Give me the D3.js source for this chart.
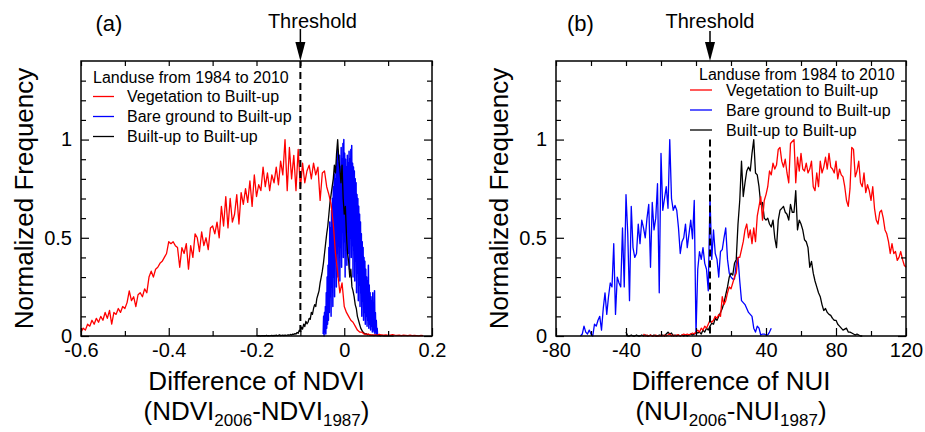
<!DOCTYPE html>
<html><head><meta charset="utf-8">
<script src="https://cdn.jsdelivr.net/npm/d3@7"></script>
<style>
body{margin:0;background:#fff}
svg text{font-family:"Liberation Sans",Arial,Helvetica,sans-serif;fill:#000}
</style></head>
<body><svg id="c" width="925" height="432"></svg>
<script>
// ---------- DATA ----------
// Panel (a): difference of NDVI
const ndviDomain = [-0.6, 0.2];
const ndviMajorTicks = [-0.6, -0.4, -0.2, 0, 0.2];
const ndviMinorTicks = [-0.5, -0.3, -0.1, 0.1];
const ndviThreshold = -0.1;

const vegNdviStart = -0.6, vegNdviStep = 0.005;
const vegNdvi = [
0.02,0.04,0.03,0.06,0.05,0.08,0.06,0.09,0.07,0.10,
0.08,0.12,0.09,0.13,0.06,0.12,0.11,0.14,0.12,0.15,
0.14,0.17,0.23,0.18,0.20,0.15,0.21,0.22,0.20,0.24,
0.22,0.30,0.33,0.30,0.34,0.35,0.37,0.38,0.40,0.42,
0.48,0.47,0.48,0.46,0.45,0.35,0.45,0.42,0.47,0.34,
0.46,0.40,0.52,0.50,0.43,0.53,0.46,0.50,0.44,0.55,
0.56,0.52,0.58,0.50,0.66,0.56,0.71,0.55,0.70,0.58,
0.62,0.72,0.57,0.73,0.67,0.75,0.68,0.79,0.66,0.82,
0.71,0.77,0.74,0.86,0.76,0.83,0.74,0.82,0.78,0.86,
0.77,0.89,0.82,1.00,0.74,0.96,0.80,0.92,0.74,0.95,
0.75,0.88,0.78,0.84,0.87,0.80,0.88,0.82,0.86,0.69,
0.83,0.84,0.76,0.72,0.67,0.57,0.42,0.32,0.22,0.27,
0.15,0.12,0.10,0.08,0.07,0.05,0.03,0.02,0.02,0.01,
0.01,0.01,0.005,0.004,0.006,0.003,0.008,0.005,0.004,0.006,
0.003,0.005,0.007,0.004,0.003,0.005,0.002,0.004,0.003,0.002,
0.004,0.002,0.003,0.002,0.001,0.003,0.002];

const bareNdviStart = -0.048, bareNdviStep = 0.001;
const bareNdvi = [
0.01,0.10,0.00,0.12,0.02,0.15,0.01,0.22,0.04,0.30,
0.06,0.36,0.08,0.45,0.12,0.58,0.20,0.55,0.10,0.64,
0.25,0.70,0.15,0.76,0.30,0.82,0.20,0.85,0.38,0.80,
0.25,0.90,0.42,0.95,0.30,0.88,0.50,0.92,0.28,0.86,
0.45,0.96,0.35,0.90,0.55,0.98,0.40,1.00,0.48,0.93,
0.30,0.90,0.52,0.86,0.36,0.92,0.58,0.88,0.42,0.94,
0.34,0.90,0.50,0.95,0.40,0.97,0.46,0.88,0.30,0.86,
0.44,0.84,0.28,0.80,0.38,0.78,0.22,0.72,0.32,0.70,
0.18,0.66,0.26,0.62,0.15,0.58,0.22,0.52,0.10,0.48,
0.18,0.45,0.08,0.40,0.12,0.38,0.06,0.34,0.10,0.30,
0.05,0.28,0.08,0.36,0.04,0.26,0.06,0.22,0.03,0.20,
0.05,0.18,0.02,0.22,0.03,0.16,0.02,0.23,0.01,0.12,
0.02,0.08,0.01,0.04,0.00];

const builtNdviStart = -0.2, builtNdviStep = 0.0025;
const builtNdvi = [
0.004,0.001,0.002,0.001,0.000,0.002,0.001,0.002,0.001,0.003,0.001,0.002,0.001,0.002,0.003,0.001,
0.003,0.002,0.004,0.002,0.003,0.006,0.002,0.003,0.004,0.002,
0.005,0.003,0.004,0.006,0.004,0.008,0.005,0.010,0.008,0.012,
0.010,0.018,0.014,0.030,0.022,0.045,0.035,0.060,0.048,0.075,
0.062,0.070,0.090,0.085,0.120,0.110,0.140,0.160,0.150,0.190,
0.210,0.230,0.270,0.300,0.330,0.370,0.420,0.470,0.520,0.560,
0.620,0.680,0.720,0.760,0.800,0.870,0.830,0.930,1.000,0.900,
0.850,0.780,0.870,0.700,0.620,0.660,0.520,0.420,0.380,0.300,
0.340,0.250,0.230,0.200,0.160,0.140,0.100,0.080,0.060,0.040,
0.030,0.020,0.015,0.010,0.012,0.006,0.008,0.005,0.004,0.003,
0.004,0.002,0.003,0.005,0.002,0.003,0.002,0.001,0.003,0.002,
0.001,0.002,0.001,0.002,0.001,0.001,0.002,0.001,0.001,0.000];

// Panel (b): difference of NUI
const nuiDomain = [-80, 120];
const nuiMajorTicks = [-80, -40, 0, 40, 80, 120];
const nuiMinorTicks = [-60, -20, 20, 60, 100];
const nuiThreshold = 8;

const vegNuiStart = -30, vegNuiStep = 1;
const vegNui = [
0.01,0.00,0.005,0.00,0.005,0.00,0.00,0.005,0.00,0.00,
0.005,0.00,0.005,0.00,0.005,0.01,0.00,0.005,0.00,0.005,
0.005,0.00,0.005,0.01,0.005,0.01,0.005,0.01,0.015,0.01,
0.02,0.03,0.02,0.04,0.03,0.05,0.04,0.06,0.08,0.07,
0.08,0.10,0.09,0.11,0.10,0.20,0.16,0.18,0.22,0.25,
0.24,0.27,0.30,0.32,0.40,0.40,0.44,0.48,0.54,0.57,
0.50,0.54,0.47,0.55,0.48,0.61,0.66,0.71,0.59,0.69,
0.72,0.76,0.84,0.82,0.88,0.85,0.87,0.95,0.96,0.89,
0.86,0.90,0.83,0.78,0.98,0.99,1.00,0.78,0.91,0.84,
0.93,0.85,0.84,0.88,0.83,0.85,0.89,0.76,0.74,0.83,
0.76,0.89,0.83,0.86,0.91,0.85,0.93,0.86,0.85,0.83,
0.89,0.80,0.85,0.82,0.81,0.76,0.69,0.66,0.75,0.96,
0.95,0.81,0.84,0.89,0.78,0.76,0.83,0.73,0.77,0.74,
0.69,0.76,0.65,0.59,0.57,0.63,0.64,0.60,0.54,0.52,
0.48,0.42,0.47,0.42,0.43,0.385,0.40,0.43,0.39,0.36,
0.35];

const bareNuiStart = -66, bareNuiStep = 1;
const bareNui = [
0.00,0.01,0.05,0.02,0.01,0.03,0.01,0.00,0.06,0.05,
0.08,0.10,0.03,0.14,0.22,0.11,0.20,0.27,0.25,0.47,
0.11,0.30,0.27,0.25,0.55,0.25,0.72,0.52,0.18,0.66,
0.45,0.40,0.42,0.57,0.47,0.59,0.55,0.50,0.60,0.67,
0.35,0.68,0.54,0.60,0.775,0.22,0.93,0.64,0.70,0.76,
0.65,1.00,0.70,0.64,0.665,0.64,0.55,0.42,0.48,0.50,
0.57,0.45,0.52,0.59,0.495,0.69,0.01,0.34,0.43,0.39,
0.45,0.37,0.34,0.23,0.71,0.39,0.54,0.42,0.39,0.30,
0.43,0.44,0.50,0.55,0.39,0.32,0.30,0.29,0.29,0.37,
0.40,0.28,0.18,0.17,0.16,0.14,0.12,0.11,0.10,0.04,
0.02,0.05,0.04,0.005,0.01,0.01,0.005,0.005,0.02,0.04];

const builtNuiStart = -40, builtNuiStep = 1;
const builtNui = [
0.02,0.00,0.00,0.005,0.00,0.00,0.005,0.00,0.00,0.005,
0.00,0.005,0.00,0.00,0.005,0.00,0.005,0.00,0.00,0.005,
0.00,0.005,0.00,0.01,0.02,0.01,0.015,0.00,0.005,0.00,
0.005,0.00,0.005,0.00,0.005,0.00,0.005,0.01,0.005,0.01,
0.02,0.015,0.02,0.01,0.03,0.02,0.04,0.03,0.05,0.065,
0.06,0.09,0.08,0.10,0.12,0.14,0.17,0.21,0.25,0.30,
0.32,0.31,0.37,0.39,0.57,0.69,0.89,0.71,0.78,0.84,
0.86,0.84,0.93,1.00,0.83,0.82,0.76,0.67,0.68,0.60,
0.59,0.60,0.57,0.555,0.59,0.50,0.45,0.59,0.64,0.65,
0.66,0.63,0.62,0.59,0.67,0.63,0.63,0.74,0.54,0.59,
0.57,0.54,0.49,0.48,0.45,0.35,0.38,0.32,0.28,0.25,
0.22,0.20,0.16,0.13,0.14,0.12,0.11,0.105,0.09,0.08,
0.08,0.06,0.05,0.04,0.03,0.035,0.04,0.02,0.02,0.015,
0.01,0.005,0.01,0.005,0.00,0.00];

const freqDomain = [0, 1.4];
const freqLabelTicks = [0, 0.5, 1];
const freqMinorTicks = [0.1,0.2,0.3,0.4,0.6,0.7,0.8,0.9,1.1,1.2,1.3];

const legendTitle = "Landuse from 1984 to 2010";
const seriesNames = ["Vegetation to Built-up", "Bare ground to Built-up", "Built-up to Built-up"];
const seriesColors = ["#ff0000", "#0000ff", "#000000"];

// ---------- DRAWING ----------
const svg = d3.select("#c");
const F = '"Liberation Sans",Arial,Helvetica,sans-serif';
const plainFmt = d => String(d);

function panel(cfg) {
  const x = d3.scaleLinear().domain(cfg.xDomain).range([cfg.left, cfg.right]);
  const y = d3.scaleLinear().domain(freqDomain).range([336, 61]);
  const g = svg.append("g");

  const series = [
    {vals: cfg.bare, start: cfg.bareStart, step: cfg.bareStep, color: seriesColors[1], w: cfg.bareWidth},
    {vals: cfg.built, start: cfg.builtStart, step: cfg.builtStep, color: seriesColors[2], w: 1.3},
    {vals: cfg.veg, start: cfg.vegStart, step: cfg.vegStep, color: seriesColors[0], w: 1.3}
  ];
  series.forEach(s => {
    const line = d3.line().x((d,i) => x(s.start + i*s.step)).y(d => y(d));
    g.append("path").datum(s.vals).attr("d", line)
      .attr("fill","none").attr("stroke", s.color).attr("stroke-width",s.w)
      .attr("stroke-linejoin","round");
  });

  g.append("g").attr("transform",`translate(0,${y(0)})`)
    .call(d3.axisBottom(x).tickValues(cfg.major).tickSize(-8).tickSizeOuter(0).tickPadding(7).tickFormat(plainFmt));
  g.append("g").attr("transform",`translate(0,${y(0)})`)
    .call(d3.axisBottom(x).tickValues(cfg.minor).tickSize(-5).tickSizeOuter(0).tickFormat(""));
  g.append("g").attr("transform",`translate(0,${y(1.4)})`)
    .call(d3.axisTop(x).tickValues(cfg.major.concat(cfg.minor)).tickSize(-5).tickSizeOuter(0).tickFormat(""));
  g.append("g").attr("transform",`translate(${cfg.left},0)`)
    .call(d3.axisLeft(y).tickValues(freqLabelTicks).tickSize(-8).tickSizeOuter(0).tickPadding(9).tickFormat(plainFmt));
  g.append("g").attr("transform",`translate(${cfg.left},0)`)
    .call(d3.axisLeft(y).tickValues(freqMinorTicks).tickSize(-5).tickSizeOuter(0).tickFormat(""));
  g.append("g").attr("transform",`translate(${cfg.right},0)`)
    .call(d3.axisRight(y).tickValues(freqLabelTicks).tickSize(-8).tickSizeOuter(0).tickFormat(""));
  g.append("g").attr("transform",`translate(${cfg.right},0)`)
    .call(d3.axisRight(y).tickValues(freqMinorTicks).tickSize(-5).tickSizeOuter(0).tickFormat(""));
  g.selectAll(".domain").remove();
  g.selectAll(".tick line").attr("stroke","#000").attr("stroke-width",1.2);
  g.selectAll(".tick text").attr("font-size",20).attr("font-family",F);

  g.append("rect").attr("x",cfg.left).attr("y",y(1.4))
    .attr("width",cfg.right-cfg.left).attr("height",y(0)-y(1.4))
    .attr("fill","none").attr("stroke","#000").attr("stroke-width",1.5);

  const tx = x(cfg.threshold);
  g.append("line").attr("x1",tx).attr("x2",tx).attr("y1",y(cfg.threshTop)).attr("y2",y(0))
    .attr("stroke","#000").attr("stroke-width",2).attr("stroke-dasharray","7,4");
  g.append("line").attr("x1",tx).attr("x2",tx).attr("y1",cfg.arrowTop).attr("y2",43)
    .attr("stroke","#000").attr("stroke-width",1.5);
  g.append("path").attr("d",`M${tx-5},42 L${tx+5},42 L${tx},61 Z`).attr("fill","#000");
  g.append("text").attr("x",tx+cfg.threshTextDx).attr("y",27.5).attr("text-anchor","middle")
    .attr("font-size",20).text("Threshold");

  g.append("text").attr("x",cfg.labelX).attr("y",31).attr("font-size",22).text(cfg.label);

  const L = cfg.legend;
  g.append("text").attr("x",L.titleX).attr("y",L.titleY).attr("font-size",16).text(legendTitle);
  seriesNames.forEach((n,i) => {
    const ly = L.lineY0 + i*20;
    g.append("line").attr("x1",L.lineX1).attr("x2",L.lineX2).attr("y1",ly).attr("y2",ly)
      .attr("stroke",seriesColors[i]).attr("stroke-width",1.3);
    g.append("text").attr("x",L.textX).attr("y",ly+5.5).attr("font-size",16).text(n);
  });

  const cx = (cfg.left+cfg.right)/2;
  g.append("text").attr("x",cx).attr("y",390).attr("text-anchor","middle")
    .attr("font-size",26).text(cfg.xTitle);
  const t2 = g.append("text").attr("x",cx).attr("y",420).attr("text-anchor","middle").attr("font-size",26);
  t2.append("tspan").text("(" + cfg.idx);
  t2.append("tspan").attr("font-size",17).attr("dy",6).text("2006");
  t2.append("tspan").attr("dy",-6).text("-" + cfg.idx);
  t2.append("tspan").attr("font-size",17).attr("dy",6).text("1987");
  t2.append("tspan").attr("dy",-6).text(")");
  g.append("text").attr("transform",`translate(${cfg.left-48},${(y(0)+y(1.4))/2}) rotate(-90)`)
    .attr("text-anchor","middle").attr("font-size",26).text("Normalized Frequency");
}

panel({
  left:81, right:432, xDomain:ndviDomain, major:ndviMajorTicks, minor:ndviMinorTicks,
  threshold: ndviThreshold, threshTop: 1.4, threshTextDx: 12, arrowTop: 29,
  veg: vegNdvi, vegStart: vegNdviStart, vegStep: vegNdviStep,
  bare: bareNdvi, bareStart: bareNdviStart, bareStep: bareNdviStep, bareWidth: 1.5,
  built: builtNdvi, builtStart: builtNdviStart, builtStep: builtNdviStep,
  label:"(a)", labelX:95.5, xTitle:"Difference of NDVI", idx:"NDVI",
  legend:{titleX:93, titleY:83, lineX1:93, lineX2:114, lineY0:96.5, textX:127}
});
panel({
  left:556, right:906, xDomain:nuiDomain, major:nuiMajorTicks, minor:nuiMinorTicks,
  threshold: nuiThreshold, threshTop: 1.0, threshTextDx: 0, arrowTop: 31,
  veg: vegNui, vegStart: vegNuiStart, vegStep: vegNuiStep,
  bare: bareNui, bareStart: bareNuiStart, bareStep: bareNuiStep, bareWidth: 1.3,
  built: builtNui, builtStart: builtNuiStart, builtStep: builtNuiStep,
  label:"(b)", labelX:567, xTitle:"Difference of NUI", idx:"NUI",
  legend:{titleX:699, titleY:80, lineX1:690, lineX2:712, lineY0:90, textX:726}
});
</script></body></html>
